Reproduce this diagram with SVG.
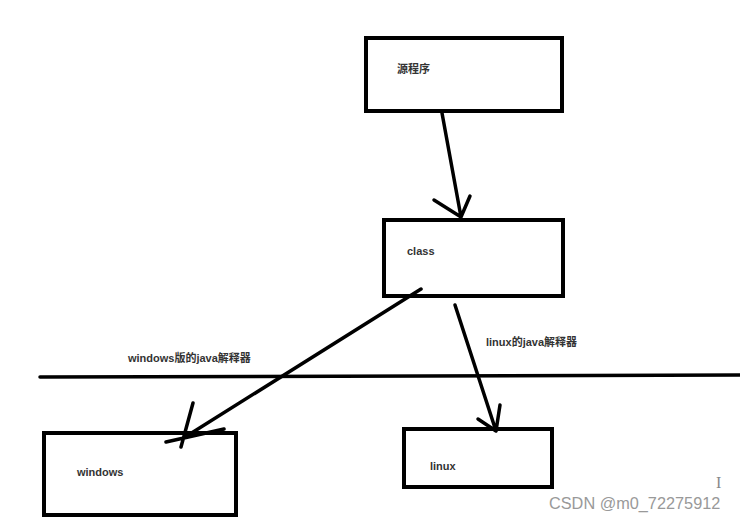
<svg xmlns="http://www.w3.org/2000/svg" width="740" height="522" viewBox="0 0 740 522">
<style>
.box{fill:#fff;stroke:#000;stroke-width:4}
.ln{fill:none;stroke:#000;stroke-width:3.5;stroke-linecap:round;stroke-linejoin:round}
.t{font-family:"Liberation Sans","Noto Sans CJK SC",sans-serif;font-size:11px;font-weight:bold;fill:#333}
.wm{font-family:"Liberation Sans",sans-serif;font-size:16.3px;fill:#999}
</style>
<rect width="740" height="522" fill="#fff"/>
<g id="src"><rect class="box" x="366" y="38" width="196" height="73"/><text class="t" x="397" y="73" font-weight="normal">源程序</text></g>
<g id="class"><rect class="box" x="384" y="220" width="179" height="76"/><text class="t" x="407" y="255">class</text></g>
<g id="win"><rect class="box" x="44" y="433" width="192" height="82"/><text class="t" x="77" y="476">windows</text></g>
<g id="linux"><rect class="box" x="404" y="429" width="148" height="58"/><text class="t" x="430" y="470">linux</text></g>
<g id="connectors">
<line class="ln" x1="40" y1="377" x2="740" y2="375"/>
<path class="ln" d="M442,113 L461,217 M434,200 L461,217 L470,196"/>
<path class="ln" d="M421,289 L182,439 M193,403 L181,447 M166,442 L224,429"/>
<path class="ln" d="M455,305 L496,431 M478,419 L496,431 L500,405"/>
</g>
<text class="t" x="128" y="362">windows版的java解释器</text>
<text class="t" x="486" y="346">linux的java解释器</text>
<text x="716" y="488" font-family="Liberation Serif,serif" font-size="16" fill="#888">I</text>
<text class="wm" x="549" y="509">CSDN @m0_72275912</text>
</svg>
